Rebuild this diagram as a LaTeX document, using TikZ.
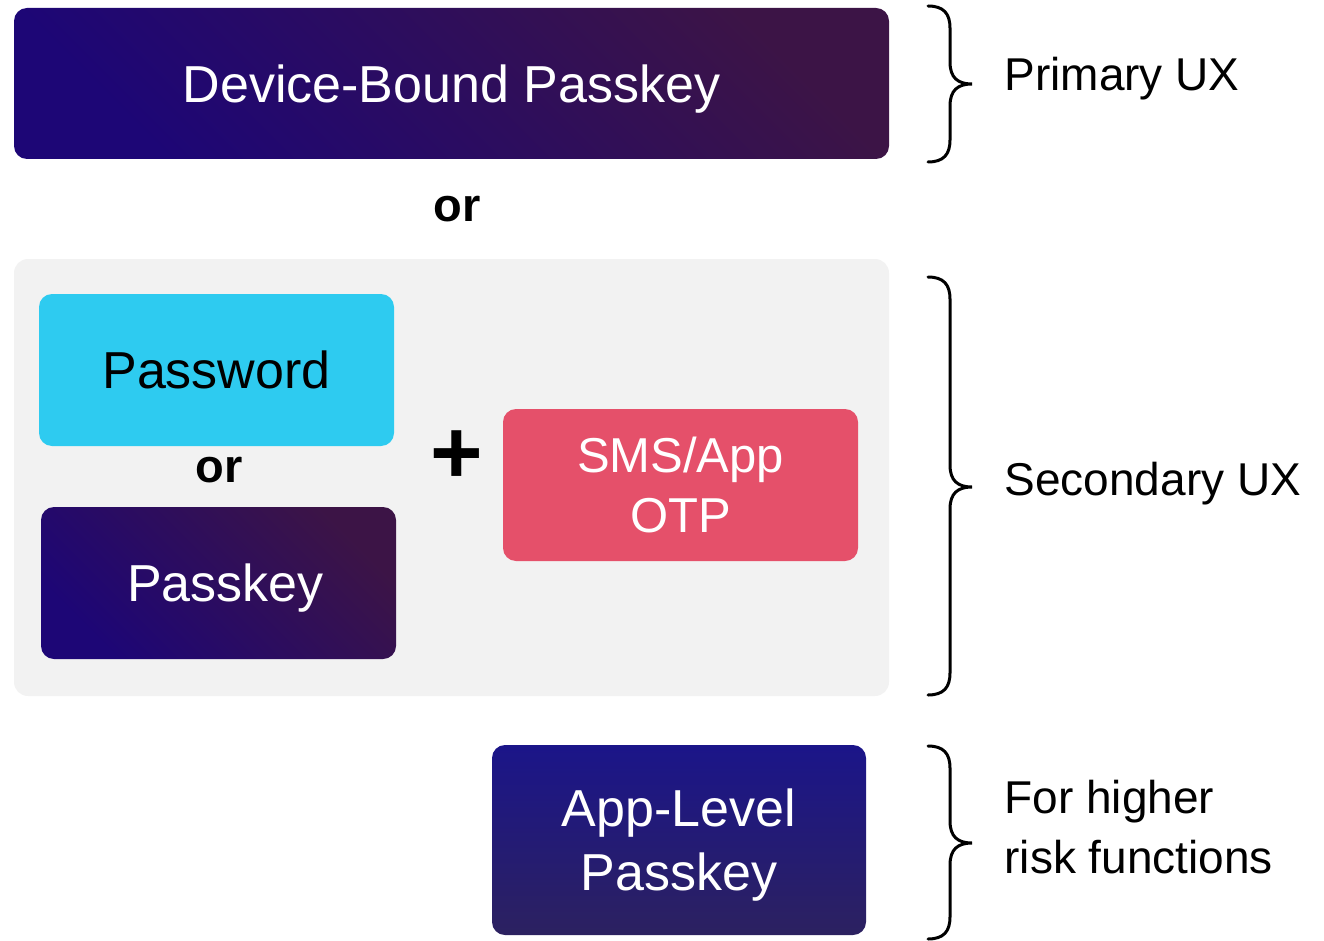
\documentclass[tikz,border=0pt]{standalone}
\usepackage{fontspec}
\setmainfont{Liberation Sans}
\definecolor{deepblue}{HTML}{1D0676}
\definecolor{deepplum}{HTML}{3C1446}
\definecolor{appblue}{HTML}{1B1589}
\definecolor{appnavy}{HTML}{2C2160}
\definecolor{skycyan}{HTML}{2ECBF0}
\definecolor{otpred}{HTML}{E5506A}
\definecolor{panelgray}{HTML}{F2F2F2}
\newcommand\fs[2]{\fontsize{#1}{#2}\selectfont}
\tikzset{
  x=1pt, y=-1pt,
  card/.style={rectangle, rounded corners=13pt, inner sep=0pt, align=center,
    text depth=0pt},
  darkcard/.style={card, shading=axis, top color=deepplum, bottom color=deepblue,
    shading angle=-45, text=white},
  brace/.style={draw=black, line width=3pt, line cap=round},
  side/.style={anchor=base west, align=left, font=\fs{46}{60}},
  orword/.style={font=\fs{47}{56}\bfseries, anchor=base},
}
\begin{document}
\begin{tikzpicture}
\useasboundingbox (0,0) rectangle (1324,941);

% primary option
\node[darkcard, minimum width=875pt, minimum height=151pt, font=\fs{52}{60}]
  (device) at (451.5,83.5) {Device-Bound Passkey};
\node[orword] (or1) at (457,222) {or};

% secondary option panel
\node[card, rounded corners=14pt, fill=panelgray, minimum width=875pt,
  minimum height=437pt] (panel) at (451.5,477.5) {};
\node[card, fill=skycyan, minimum width=355pt, minimum height=152pt,
  font=\fs{52}{60}] (password) at (216.5,370) {Password};
\node[orword] (or2) at (219,482) {or};
\node[darkcard, minimum width=355pt, minimum height=152pt, font=\fs{52}{60}]
  (passkey) at (218.5,583) {\hspace*{14pt}Passkey};
\node[font=\fs{90}{90}\bfseries] (plus) at (456.5,457) {+};
\node[card, fill=otpred, text=white, minimum width=355pt, minimum height=152pt,
  font=\fs{49}{60}] (otp) at (680.5,485) {SMS/App\\OTP};

% higher risk option
\node[card, shading=axis, top color=appblue, bottom color=appnavy, text=white,
  minimum width=374pt, minimum height=190pt, font=\fs{52}{64}]
  (applevel) at (679,840) {App-Level\\Passkey};

% braces and their labels
\foreach \t/\m/\b in {6/84/162, 277/487/695, 746/843/939}{
  \draw[brace] (928,\t) .. controls (944,\t) and (950,\t+8) .. (950,\t+22)
    -- (950,\m-22) .. controls (950,\m-6) and (958,\m) .. (972,\m)
    .. controls (958,\m) and (950,\m+6) .. (950,\m+22)
    -- (950,\b-22) .. controls (950,\b-8) and (944,\b) .. (928,\b);
}
\node[side] (primary) at (1001,91) {Primary UX};
\node[side] (secondary) at (1001,495) {Secondary UX};
\node[side] (higher) at (1001,873) {For higher\\risk functions};
\end{tikzpicture}
\end{document}
